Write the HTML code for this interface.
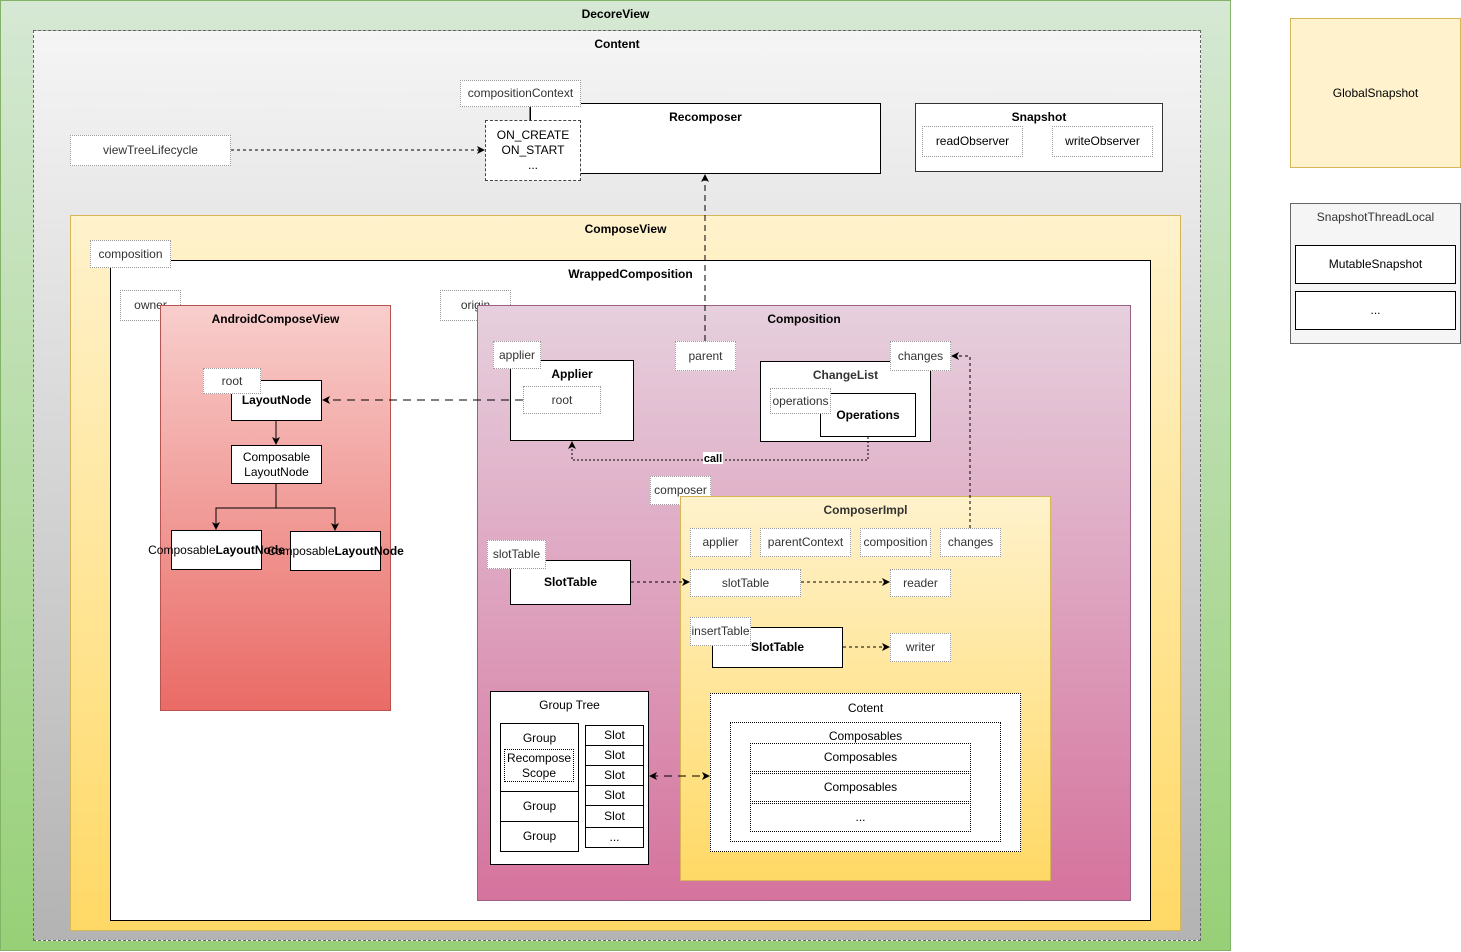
<!DOCTYPE html>
<html><head><meta charset="utf-8"><style>
body{margin:0;width:1461px;height:952px;position:relative;background:#fff;font-family:"Liberation Sans",sans-serif;font-size:12px;overflow:hidden}
.b{position:absolute;box-sizing:border-box;display:flex;align-items:center;justify-content:center;text-align:center;line-height:15px;color:#000}
.t{position:absolute;left:0;right:0;text-align:center;font-weight:bold;font-size:12px}
.lbl{background:#fff;border:1px dotted #999;color:#333}
.w{background:#fff;border:1px solid #000}
.bold{font-weight:bold}
</style></head><body>
<div class="b" style="left:0;top:0;width:1231px;height:951px;background:linear-gradient(#d5e8d4,#97d077);border:1px solid #82b366;align-items:flex-start"><div class="t" style="top:6px">DecoreView</div></div>
<div class="b" style="left:33px;top:30px;width:1168px;height:911px;background:linear-gradient(#f5f5f5,#b3b3b3);border:1px dashed #666"><div class="t" style="top:6px">Content</div></div>
<div class="b w" style="left:530px;top:103px;width:351px;height:71px"><div class="t" style="top:6px">Recomposer</div></div>
<div class="b lbl" style="left:460px;top:80px;width:121px;height:27px">compositionContext</div>
<div class="b" style="left:485px;top:120px;width:96px;height:61px;background:#fff;border:1px dashed #444">ON_CREATE<br>ON_START<br>...</div>
<div class="b lbl" style="left:70px;top:135px;width:161px;height:31px">viewTreeLifecycle</div>
<div class="b w" style="left:915px;top:103px;width:248px;height:69px;border-color:#333"><div class="t" style="top:6px">Snapshot</div></div>
<div class="b lbl" style="left:922px;top:126px;width:101px;height:31px;color:#000">readObserver</div>
<div class="b lbl" style="left:1052px;top:126px;width:101px;height:31px;color:#000">writeObserver</div>
<div class="b" style="left:1290px;top:18px;width:171px;height:150px;background:#fff2cc;border:1px solid #d6b656">GlobalSnapshot</div>
<div class="b" style="left:1290px;top:203px;width:171px;height:141px;background:#f5f5f5;border:1px solid #666;color:#333;align-items:flex-start;padding-top:6px">SnapshotThreadLocal</div>
<div class="b w" style="left:1295px;top:245px;width:161px;height:39px">MutableSnapshot</div>
<div class="b w" style="left:1295px;top:291px;width:161px;height:39px">...</div>

<div class="b" style="left:70px;top:215px;width:1111px;height:716px;background:linear-gradient(#fff2cc,#ffd966);border:1px solid #d6b656"><div class="t" style="top:6px">ComposeView</div></div>
<div class="b w" style="left:110px;top:260px;width:1041px;height:661px"><div class="t" style="top:6px">WrappedComposition</div></div>
<div class="b lbl" style="left:90px;top:240px;width:81px;height:28px">composition</div>
<div class="b lbl" style="left:120px;top:290px;width:61px;height:31px">owner</div>
<div class="b" style="left:160px;top:305px;width:231px;height:406px;background:linear-gradient(#f8cecc,#ea6b66);border:1px solid #b85450"><div class="t" style="top:6px">AndroidComposeView</div></div>
<div class="b w" style="left:231px;top:380px;width:91px;height:41px;padding-top:0" ><span class="bold">LayoutNode</span></div>
<div class="b lbl" style="left:203px;top:368px;width:58px;height:26px">root</div>
<div class="b w" style="left:231px;top:445px;width:91px;height:39px">Composable<br>LayoutNode</div>
<div class="b w" style="left:171px;top:530px;width:91px;height:40px">Composable<br><b>LayoutNode</b></div>
<div class="b w" style="left:290px;top:531px;width:91px;height:40px">Composable<br><b>LayoutNode</b></div>
<div class="b lbl" style="left:440px;top:290px;width:71px;height:31px">origin</div>

<div class="b" style="left:477px;top:305px;width:654px;height:596px;background:linear-gradient(#e6d0de,#d5739d);border:1px solid #996185"><div class="t" style="top:6px">Composition</div></div>
<div class="b w" style="left:510px;top:360px;width:124px;height:81px"><div class="t" style="top:6px">Applier</div></div>
<div class="b lbl" style="left:493px;top:341px;width:48px;height:28px">applier</div>
<div class="b lbl" style="left:523px;top:386px;width:78px;height:28px">root</div>
<div class="b lbl" style="left:675px;top:341px;width:61px;height:30px">parent</div>
<div class="b w" style="left:760px;top:361px;width:171px;height:81px"><div class="t" style="top:6px;font-weight:normal;font-weight:bold;color:#333">ChangeList</div></div>
<div class="b w" style="left:820px;top:393px;width:96px;height:44px"><b>Operations</b></div>
<div class="b lbl" style="left:770px;top:388px;width:61px;height:26px;color:#333">operations</div>
<div class="b lbl" style="left:890px;top:341px;width:61px;height:30px">changes</div>
<div class="b lbl" style="left:650px;top:476px;width:61px;height:29px">composer</div>
<div class="b" style="left:680px;top:496px;width:371px;height:385px;background:linear-gradient(#fff2cc,#ffd966);border:1px solid #d6b656"><div class="t" style="top:6px;color:#333">ComposerImpl</div></div>
<div class="b lbl" style="left:690px;top:528px;width:61px;height:29px">applier</div>
<div class="b lbl" style="left:760px;top:528px;width:91px;height:29px">parentContext</div>
<div class="b lbl" style="left:860px;top:528px;width:71px;height:29px">composition</div>
<div class="b lbl" style="left:940px;top:528px;width:61px;height:29px">changes</div>
<div class="b w" style="left:510px;top:560px;width:121px;height:45px"><b>SlotTable</b></div>
<div class="b lbl" style="left:487px;top:540px;width:59px;height:29px">slotTable</div>
<div class="b lbl" style="left:690px;top:569px;width:111px;height:28px">slotTable</div>
<div class="b lbl" style="left:890px;top:569px;width:61px;height:28px">reader</div>
<div class="b w" style="left:712px;top:627px;width:131px;height:41px"><b>SlotTable</b></div>
<div class="b lbl" style="left:690px;top:617px;width:61px;height:29px">insertTable</div>
<div class="b lbl" style="left:890px;top:633px;width:61px;height:29px">writer</div>

<div class="b w" style="left:490px;top:691px;width:159px;height:174px;align-items:flex-start;padding-top:6px">Group Tree</div>
<div class="b w" style="left:500px;top:723px;width:79px;height:69px;align-items:flex-start;padding-top:7px">Group</div>
<div class="b" style="left:504px;top:749px;width:70px;height:33px;border:1px dotted #000">Recompose<br>Scope</div>
<div class="b w" style="left:500px;top:791px;width:79px;height:31px">Group</div>
<div class="b w" style="left:500px;top:821px;width:79px;height:31px">Group</div>
<div class="b w" style="left:585px;top:725px;width:59px;height:21px">Slot</div>
<div class="b w" style="left:585px;top:745px;width:59px;height:21px">Slot</div>
<div class="b w" style="left:585px;top:765px;width:59px;height:21px">Slot</div>
<div class="b w" style="left:585px;top:785px;width:59px;height:21px">Slot</div>
<div class="b w" style="left:585px;top:805px;width:59px;height:23px">Slot</div>
<div class="b w" style="left:585px;top:827px;width:59px;height:21px">...</div>
<div class="b" style="left:710px;top:693px;width:311px;height:159px;background:#fff;border:1px dotted #000;align-items:flex-start;padding-top:7px">Cotent</div>
<div class="b" style="left:730px;top:722px;width:271px;height:120px;border:1px dotted #000;align-items:flex-start;padding-top:6px">Composables</div>
<div class="b" style="left:750px;top:743px;width:221px;height:29px;border:1px dotted #000">Composables</div>
<div class="b" style="left:750px;top:773px;width:221px;height:29px;border:1px dotted #000">Composables</div>
<div class="b" style="left:750px;top:803px;width:221px;height:29px;border:1px dotted #000">...</div>

<svg style="position:absolute;left:0;top:0" width="1461" height="952">
<defs><marker id="a" markerWidth="8" markerHeight="8" refX="7" refY="4" orient="auto" markerUnits="userSpaceOnUse"><path d="M0,0 L8,4 L0,8 L2,4z" fill="#000"/></marker>
<marker id="s" markerWidth="8" markerHeight="8" refX="1" refY="4" orient="auto" markerUnits="userSpaceOnUse"><path d="M8,0 L0,4 L8,8 L6,4z" fill="#000"/></marker></defs>
<g fill="none" stroke="#000" stroke-width="1">
<line x1="530" y1="107" x2="530" y2="120"/>
<line x1="231" y1="150" x2="484" y2="150" stroke-dasharray="3,3" marker-end="url(#a)"/>
<line x1="705" y1="341" x2="705" y2="175" stroke-dasharray="6,4" marker-end="url(#a)"/>
<line x1="523" y1="400" x2="323" y2="400" stroke-dasharray="8,6" marker-end="url(#a)"/>
<polyline points="868,437 868,460 572,460 572,442" stroke-dasharray="2,2" marker-end="url(#a)"/>
<polyline points="970,528 970,356 952,356" stroke-dasharray="3,3" marker-end="url(#a)"/>
<line x1="276" y1="421" x2="276" y2="444" marker-end="url(#a)"/>
<polyline points="276,484 276,508 216,508 216,529" marker-end="url(#a)"/>
<polyline points="276,508 335,508 335,530" marker-end="url(#a)"/>
<line x1="631" y1="582" x2="689" y2="582" stroke-dasharray="3,3" marker-end="url(#a)"/>
<line x1="801" y1="582" x2="889" y2="582" stroke-dasharray="3,3" marker-end="url(#a)"/>
<line x1="843" y1="647" x2="889" y2="647" stroke-dasharray="3,3" marker-end="url(#a)"/>
<line x1="650" y1="776" x2="709" y2="776" stroke-dasharray="8,6" marker-start="url(#s)" marker-end="url(#a)"/>
</g>
<rect x="703" y="452" width="20" height="12" fill="#fff"/>
<text x="713" y="462" font-size="11" font-weight="bold" text-anchor="middle" font-family="Liberation Sans">call</text>
</svg>
</body></html>
